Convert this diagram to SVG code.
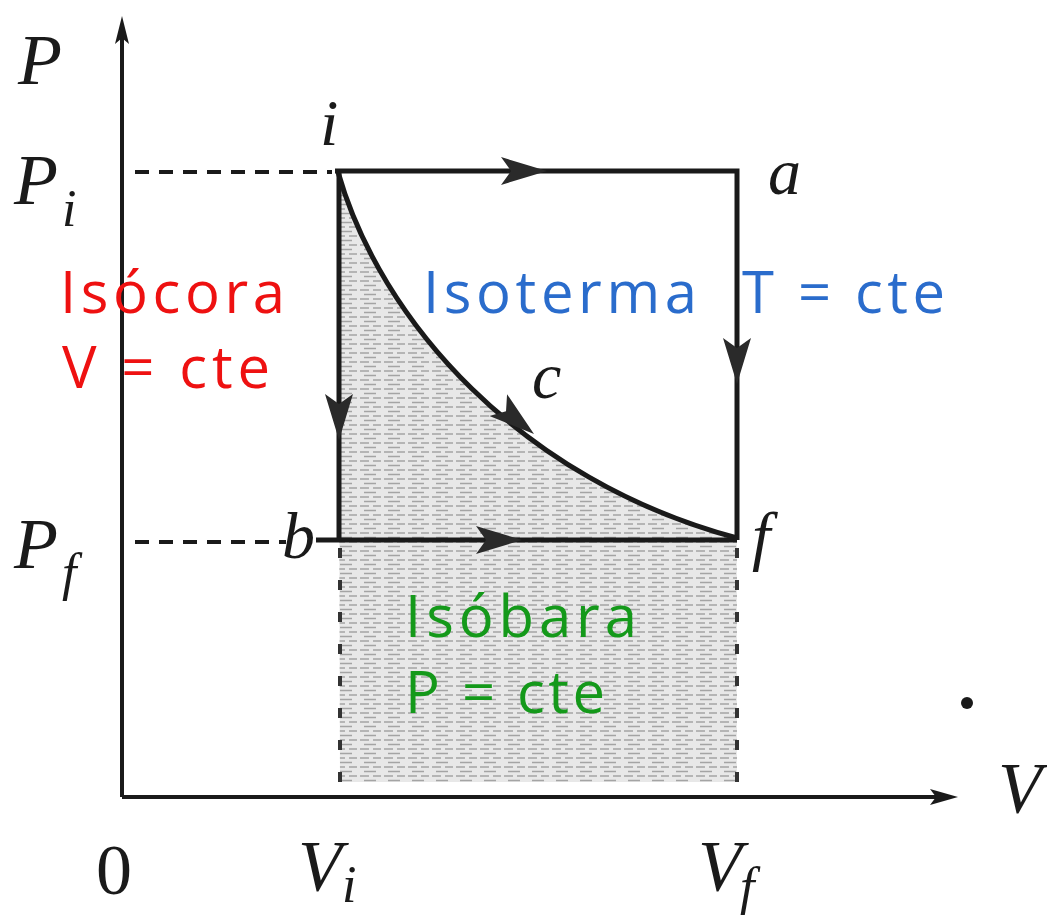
<svg xmlns="http://www.w3.org/2000/svg" width="1047" height="917" viewBox="0 0 1047 917">
<style>
.m{font-family:"Liberation Serif","Times New Roman",serif;font-style:italic;fill:#1a1a1a}
.n{font-family:"Liberation Serif","Times New Roman",serif;font-style:normal;fill:#1a1a1a}
.lab{font-family:"Open Sans","Noto Sans",sans-serif;font-size:58px}
.ax{stroke:#1a1a1a;stroke-width:4;fill:none}
.path{stroke:#1a1a1a;stroke-width:5;fill:none}
.dash{stroke:#1a1a1a;stroke-width:4;stroke-dasharray:14 10;fill:none}
.vdash{stroke:#333;stroke-width:4;stroke-dasharray:10 22;fill:none}
</style>
<defs>
<pattern id="shade" width="24" height="9" patternUnits="userSpaceOnUse">
<rect width="24" height="9" fill="#e8e8e8"/>
<path d="M0,2 H9 M13,2 H21 M4,6.5 H16" stroke="#a4a4a4" stroke-width="1.3"/>
</pattern>
<path id="ah" d="M0,0 L-46,-14 L-36,0 L-46,14 Z" fill="#2a2a2a"/>
</defs>
<rect width="1047" height="917" fill="#fff"/>
<g id="shading">
<path d="M338,172 C380,320 520,480 737,538 L737,782 L340,782 Z" fill="url(#shade)"/>
</g>
<g id="axes">
<path class="ax" d="M122,797 V30"/>
<path d="M122,16 L115,44 L122,38 L129,44 Z" fill="#1a1a1a"/>
<path class="ax" d="M122,797 H945"/>
<path d="M958,797 L930,789 L936,797 L930,805 Z" fill="#1a1a1a"/>
<circle cx="967" cy="703" r="6" fill="#1a1a1a"/>
</g>
<g id="connectors">
<path class="dash" d="M135,172 H332"/>
<path class="dash" d="M135,542 H286"/>
<path class="vdash" d="M340,548 V782"/>
<path class="vdash" d="M737,548 V782"/>
<path id="e-ia" class="path" d="M335,171 H737 V540"/>
<path id="e-ib" class="path" d="M339,172 V540"/>
<path id="e-bf" class="path" d="M316,540 H737"/>
<path id="e-if" class="path" stroke-width="4" d="M338,172 C380,320 520,480 737,538"/>
<use href="#ah" transform="translate(547,171)"/>
<use href="#ah" transform="translate(737,384) rotate(90)"/>
<use href="#ah" transform="translate(339,440) rotate(90)"/>
<use href="#ah" transform="translate(522,540)"/>
<use href="#ah" transform="translate(534,434) rotate(39)"/>
</g>
<g id="node-i"><text class="m" x="320" y="145" font-size="66">i</text></g>
<g id="node-a"><text class="m" x="768" y="194" font-size="66">a</text></g>
<g id="node-c"><text class="m" x="532" y="398" font-size="66">c</text></g>
<g id="node-b"><text class="m" x="282" y="558" font-size="66">b</text></g>
<g id="node-f"><text class="m" x="752" y="558" font-size="66">f</text></g>
<g id="axis-labels">
<text class="m" x="18" y="84" font-size="72">P</text>
<text class="m" x="14" y="204" font-size="72">P<tspan font-size="52" dx="4" dy="22">i</tspan></text>
<text class="m" x="14" y="568" font-size="72">P<tspan font-size="52" dx="4" dy="22">f</tspan></text>
<text class="n" x="96" y="894" font-size="72">0</text>
<text class="m" x="298" y="890" font-size="72">V<tspan font-size="52" dx="0" dy="12">i</tspan></text>
<text class="m" x="698" y="890" font-size="72">V<tspan font-size="52" dx="-2" dy="14">f</tspan></text>
<text class="m" x="998" y="812" font-size="72">V</text>
</g>
<g id="label-isocora" fill="#ee1111">
<text class="lab" x="60" y="313" textLength="225">Isócora</text>
<text class="lab" x="62" y="388" textLength="208">V = cte</text>
</g>
<g id="label-isoterma" fill="#2a6ccc">
<text class="lab" x="423" y="313" textLength="274">Isoterma</text>
<text class="lab" x="742" y="313" textLength="203">T = cte</text>
</g>
<g id="label-isobara" fill="#14991a">
<text class="lab" x="405" y="637" textLength="232">Isóbara</text>
<text class="lab" x="405" y="713" textLength="200">P = cte</text>
</g>
</svg>
